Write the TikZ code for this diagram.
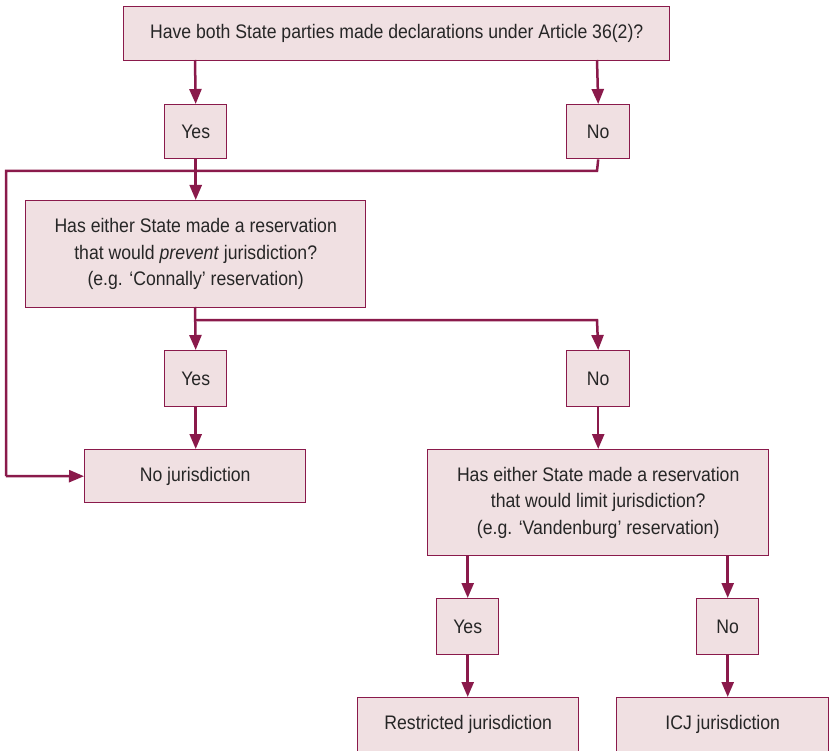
\documentclass[tikz,border=0pt]{standalone}
\usepackage{fontspec}
\setmainfont{Liberation Sans}[FakeStretch=0.9]
\usetikzlibrary{arrows.meta}
\definecolor{edgec}{HTML}{8A1A4B}
\definecolor{fillc}{HTML}{F0E0E2}
\tikzset{
  box/.style={draw=edgec, fill=fillc, line width=1.4pt, inner sep=0pt, align=center,
    font=\fontsize{19.6}{26.5}\selectfont, text=black!85},
  conn/.style={draw=edgec, line width=2.5pt, -{Triangle[length=15pt,width=12pt]}},
  line/.style={draw=edgec, line width=2.5pt}
}
\newcommand{\bx}[6]{\node[box, minimum width=#4pt-#2pt, minimum height=#5pt-#3pt, anchor=north west] (#1) at (#2,#3) {#6};}
\begin{document}
\begin{tikzpicture}[x=1pt,y=-1pt]
\useasboundingbox (0,0) rectangle (829,751);
\bx{top}{123}{6}{669}{60}{Have both State parties made declarations under Article 36(2)?}
\bx{yesa}{164}{104}{226}{158}{Yes}
\bx{noa}{566}{104}{629}{158}{No}
\bx{qb}{25}{200}{365}{307}{Has either State made a reservation\\that would \textit{prevent} jurisdiction?\\(e.g. ‘Connally’ reservation)}
\bx{yesb}{164}{350}{226}{406}{Yes}
\bx{nob}{566}{350}{629}{406}{No}
\bx{nojur}{84}{449}{305}{502}{No jurisdiction}
\bx{qc}{427}{449}{768}{555}{Has either State made a reservation\\that would limit jurisdiction?\\(e.g. ‘Vandenburg’ reservation)}
\bx{yesc}{436}{598}{498}{654}{Yes}
\bx{noc}{696}{598}{758}{654}{No}
\bx{restr}{357}{697}{578}{750.5}{Restricted jurisdiction}
\bx{icj}{616}{697}{828}{750.5}{ICJ jurisdiction}

\coordinate (tyes) at (195,60);
\coordinate (tno) at (597,60);
\draw[conn] (tyes) -- (yesa.north);
\draw[conn] (tno) -- (noa.north);
\draw[conn] (yesa.south) -- (qb.north -| yesa.south);
\coordinate (c1) at (597,171);
\coordinate (c2) at (6,171);
\coordinate (c3) at (6,476);
\draw[line, line join=miter] (noa.south) -- (c1) -- (c2) -- (c3);
\draw[conn] (c3) -- (nojur.west);
\coordinate (qbs) at (195,307);
\coordinate (d1) at (195,320);
\coordinate (d2) at (597,320);
\draw[conn] (qbs) -- (yesb.north);
\draw[conn, line join=miter] (d1) -- (d2) -- (nob.north);
\draw[conn] (yesb.south) -- (nojur.north -| yesb.south);
\draw[conn] (nob.south) -- (qc.north -| nob.south);
\draw[conn] (qc.south -| yesc.north) -- (yesc.north);
\draw[conn] (qc.south -| noc.north) -- (noc.north);
\draw[conn] (yesc.south) -- (restr.north -| yesc.south);
\draw[conn] (noc.south) -- (icj.north -| noc.south);
\end{tikzpicture}
\end{document}
